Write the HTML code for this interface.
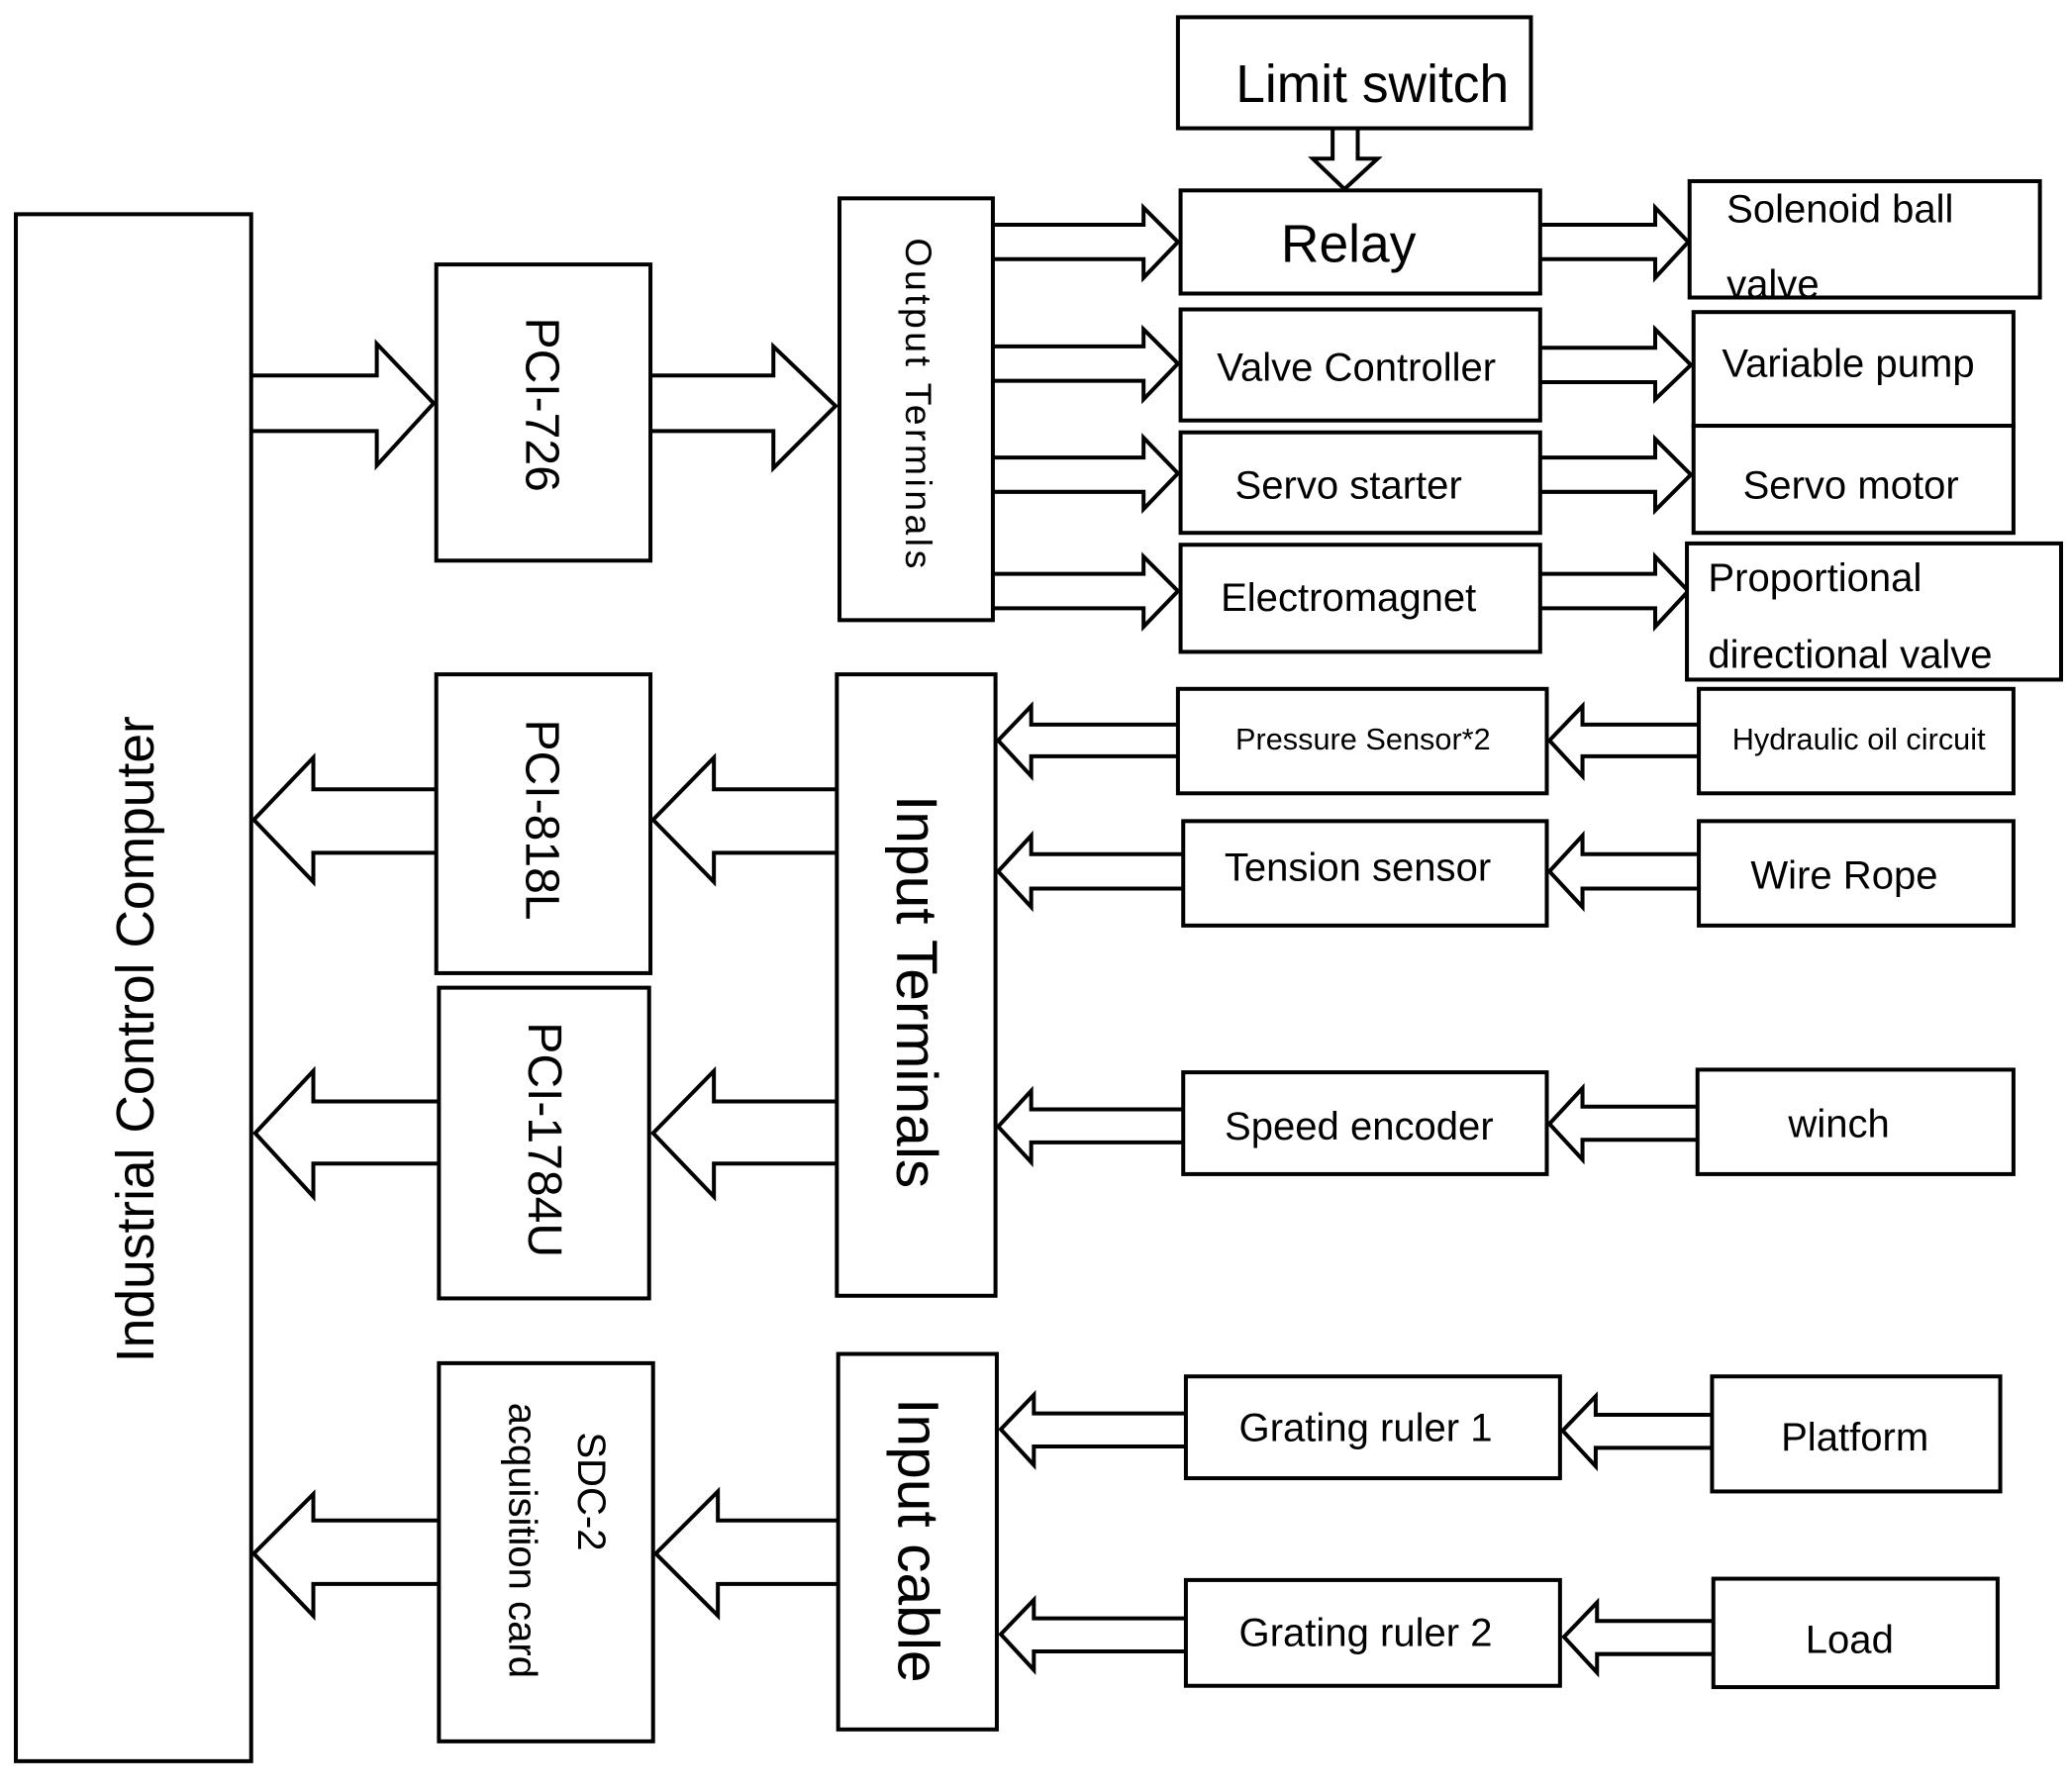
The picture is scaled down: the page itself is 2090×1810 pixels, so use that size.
<!DOCTYPE html>
<html><head><meta charset="utf-8"><style>html,body{margin:0;padding:0;background:#fff}svg{display:block}</style></head>
<body>
<svg width="2090" height="1810" viewBox="0 0 1565 1355.3" xmlns="http://www.w3.org/2000/svg" font-family="Liberation Sans, DejaVu Sans, sans-serif" fill="none" stroke="#000">
<g stroke-width="3" fill="#fff" stroke-linejoin="miter">
<polyline points="188,284 285,284 285,260 328,305 285,352 285,326 188,326"/>
<polyline points="490,284 585,284 585,262 632,307 585,354 585,326 490,326"/>
<polyline points="749,170 865,170 865,157 891,183 865,210 865,196 749,196"/>
<polyline points="749,262 865,262 865,249 891,275 865,302 865,288 749,288"/>
<polyline points="749,346 865,346 865,331 891,358 865,385 865,372 749,372"/>
<polyline points="749,434 865,434 865,421 891,447 865,474 865,460 749,460"/>
<polyline points="1163,170 1252,170 1252,157 1277,183 1252,210 1252,196 1163,196"/>
<polyline points="1163,263 1252,263 1252,249 1279,276 1252,302 1252,289 1163,289"/>
<polyline points="1163,346 1252,346 1252,332 1279,359 1252,386 1252,372 1163,372"/>
<polyline points="1163,434 1252,434 1252,421 1277,447 1252,474 1252,460 1163,460"/>
<polyline points="1008,97 1008,120 993,120 1017,143 1042,120 1027,120 1027,97"/>
<polyline points="332,597 237,597 237,573 192,620 237,667 237,645 332,645"/>
<polyline points="635,597 540,597 540,573 494,620 540,667 540,645 635,645"/>
<polyline points="334,833 237,833 237,810 193,857 237,905 237,880 334,880"/>
<polyline points="635,833 540,833 540,810 494,857 540,905 540,880 635,880"/>
<polyline points="334,1150 237,1150 237,1130 192,1175 237,1222 237,1198 334,1198"/>
<polyline points="636,1150 543,1150 543,1128 496,1175 543,1222 543,1198 636,1198"/>
<polyline points="893,548 780,548 780,534 755,560 780,587 780,572 893,572"/>
<polyline points="1287,548 1197,548 1197,534 1172,560 1197,587 1197,572 1287,572"/>
<polyline points="897,646 780,646 780,632 755,659 780,686 780,672 897,672"/>
<polyline points="1287,646 1197,646 1197,632 1172,659 1197,686 1197,672 1287,672"/>
<polyline points="897,839 780,839 780,825 755,852 780,879 780,864 897,864"/>
<polyline points="1286,837 1197,837 1197,823 1172,850 1197,877 1197,862 1286,862"/>
<polyline points="899,1069 782,1069 782,1055 757,1081 782,1108 782,1094 899,1094"/>
<polyline points="1297,1070 1207,1070 1207,1056 1182,1082 1207,1109 1207,1095 1297,1095"/>
<polyline points="899,1224 782,1224 782,1210 757,1236 782,1263 782,1249 899,1249"/>
<polyline points="1298,1226 1208,1226 1208,1212 1183,1238 1208,1265 1208,1251 1298,1251"/>
</g>
<g stroke-width="3" fill="#fff">
<rect x="12" y="162" width="178" height="1170"/>
<rect x="330" y="200" width="162" height="224"/>
<rect x="635" y="150" width="116" height="319"/>
<rect x="891" y="13" width="267" height="84"/>
<rect x="893" y="144" width="272" height="78"/>
<rect x="893" y="234" width="272" height="84"/>
<rect x="893" y="327" width="272" height="76"/>
<rect x="893" y="412" width="272" height="81"/>
<rect x="1278" y="137" width="265" height="88"/>
<rect x="1281" y="236" width="242" height="86"/>
<rect x="1281" y="322" width="242" height="81"/>
<rect x="1276" y="411" width="283" height="103"/>
<rect x="330" y="510" width="162" height="226"/>
<rect x="332" y="747" width="159" height="235"/>
<rect x="633" y="510" width="120" height="470"/>
<rect x="891" y="521" width="279" height="79"/>
<rect x="1285" y="521" width="238" height="79"/>
<rect x="895" y="621" width="275" height="79"/>
<rect x="1285" y="621" width="238" height="79"/>
<rect x="895" y="811" width="275" height="77"/>
<rect x="1284" y="809" width="239" height="79"/>
<rect x="332" y="1031" width="162" height="286"/>
<rect x="634" y="1024" width="120" height="284"/>
<rect x="897" y="1041" width="283" height="77"/>
<rect x="1295" y="1041" width="218" height="87"/>
<rect x="897" y="1195" width="283" height="80"/>
<rect x="1296" y="1194" width="215" height="82"/>
</g>
<g fill="#000" stroke="none">
<text x="103" y="786" font-size="40" text-anchor="middle" dominant-baseline="central" transform="rotate(-90 103 786)">Industrial Control Computer</text>
<text x="410" y="306" font-size="36" text-anchor="middle" dominant-baseline="central" transform="rotate(90 410 306)">PCI-726</text>
<text x="695" y="305" font-size="28" text-anchor="middle" dominant-baseline="central" transform="rotate(90 695 305)" textLength="250">Output Terminals</text>
<text x="410" y="620" font-size="36" text-anchor="middle" dominant-baseline="central" transform="rotate(90 410 620)">PCI-818L</text>
<text x="412" y="862" font-size="36" text-anchor="middle" dominant-baseline="central" transform="rotate(90 412 862)">PCI-1784U</text>
<text x="693" y="750" font-size="44" text-anchor="middle" dominant-baseline="central" transform="rotate(90 693 750)">Input Terminals</text>
<text x="447" y="1128" font-size="30" text-anchor="middle" dominant-baseline="central" transform="rotate(90 447 1128)">SDC-2</text>
<text x="395" y="1165" font-size="30" text-anchor="middle" dominant-baseline="central" transform="rotate(90 395 1165)">acquisition card</text>
<text x="694" y="1165" font-size="44" text-anchor="middle" dominant-baseline="central" transform="rotate(90 694 1165)">Input cable</text>
<text x="1038" y="77" font-size="40" text-anchor="middle">Limit switch</text>
<text x="1020" y="198" font-size="40" text-anchor="middle">Relay</text>
<text x="1026" y="288" font-size="30" text-anchor="middle">Valve Controller</text>
<text x="1020" y="377" font-size="30" text-anchor="middle">Servo starter</text>
<text x="1020" y="462" font-size="30" text-anchor="middle">Electromagnet</text>
<text x="1306" y="168" font-size="30">Solenoid ball</text>
<text x="1306" y="225" font-size="30">valve</text>
<text x="1398" y="285" font-size="30" text-anchor="middle">Variable pump</text>
<text x="1400" y="377" font-size="30" text-anchor="middle">Servo motor</text>
<text x="1292" y="447" font-size="30">Proportional</text>
<text x="1292" y="505" font-size="30">directional valve</text>
<text x="1031" y="567" font-size="23" text-anchor="middle">Pressure Sensor*2</text>
<text x="1406" y="567" font-size="23" text-anchor="middle">Hydraulic oil circuit</text>
<text x="1027" y="666" font-size="30" text-anchor="middle">Tension sensor</text>
<text x="1395" y="672" font-size="30" text-anchor="middle">Wire Rope</text>
<text x="1028" y="862" font-size="30" text-anchor="middle">Speed encoder</text>
<text x="1391" y="860" font-size="30" text-anchor="middle">winch</text>
<text x="1033" y="1090" font-size="30" text-anchor="middle">Grating ruler 1</text>
<text x="1403" y="1097" font-size="30" text-anchor="middle">Platform</text>
<text x="1033" y="1245" font-size="30" text-anchor="middle">Grating ruler 2</text>
<text x="1399" y="1250" font-size="30" text-anchor="middle">Load</text>
</g>
</svg>
</body></html>
